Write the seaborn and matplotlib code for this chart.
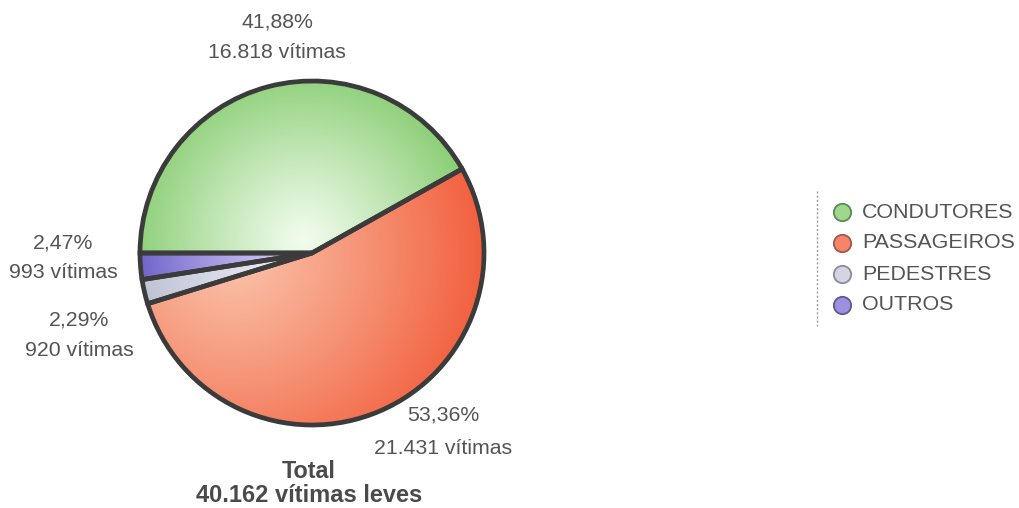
import numpy as np
import matplotlib
matplotlib.use("Agg")
import matplotlib.pyplot as plt
from matplotlib.colors import LinearSegmentedColormap, to_rgb
import seaborn as sns

# ---- data ----
categories = ["CONDUTORES", "PASSAGEIROS", "PEDESTRES", "OUTROS"]
victims = [16818, 21431, 920, 993]
total_victims = 40162

light_colors = ["#f2fcee", "#fac3aa", "#e8eaf4", "#cfc4f7"]
dark_colors = ["#86cc70", "#f2603f", "#b6b9cc", "#574cbd"]
legend_face = ["#9fd88c", "#f5846a", "#d3d5e3", "#9c90e0"]
legend_edge = ["#5b8a55", "#a0584a", "#8a8c9c", "#5d5a8e"]

sns.set_theme(style="white")
plt.rcParams["font.family"] = ["Liberation Sans", "DejaVu Sans"]

W, H = 1019, 508
fig = plt.figure(figsize=(W / 100, H / 100), dpi=100)
fig.patch.set_facecolor("white")

def fmt_int(v):
    return f"{v:,}".replace(",", ".")

def fmt_pct(v):
    return f"{v:.2f}".replace(".", ",") + "%"

pcts = [100 * v / total_victims for v in victims]

# ---- pie ----
cx, cy, r = 312, 253, 172
ax = fig.add_axes([(cx - r) / W, (H - cy - r) / H, 2 * r / W, 2 * r / H])
wedges, _ = ax.pie(victims, startangle=180, counterclock=False, radius=1,
                   wedgeprops=dict(edgecolor="#3b3b3b", linewidth=3.4))
ax.set_xlim(-1, 1)
ax.set_ylim(-1, 1)
ax.set_axis_off()

xs = np.linspace(-1.05, 1.05, 400)
X, Y = np.meshgrid(xs, xs)
highlights = [(-0.05, 0.08, 1.05), (-0.45, 0.0, 1.45), (-0.2, 0.0, 1.0), (-0.2, 0.0, 1.0)]
for w, lc, dc, (hx, hy, sc) in zip(wedges, light_colors, dark_colors, highlights):
    cmap = LinearSegmentedColormap.from_list("g", [to_rgb(lc), to_rgb(dc)])
    D = np.clip(np.hypot(X - hx, Y - hy) / sc, 0, 1) ** 1.1
    im = ax.imshow(D, cmap=cmap, vmin=0, vmax=1, extent=(-1.05, 1.05, -1.05, 1.05),
                   origin="lower", zorder=0.5, interpolation="bilinear")
    im.set_clip_path(w)
    w.set_facecolor("none")
    w.set_zorder(2)
    w.set_clip_on(False)
ax.set_xlim(-1, 1)
ax.set_ylim(-1, 1)

# ---- overlay for text & legend (pixel coords) ----
ov = fig.add_axes([0, 0, 1, 1], zorder=3)
ov.set_xlim(0, W)
ov.set_ylim(H, 0)
ov.set_axis_off()
ov.patch.set_alpha(0)

tcol = "#545454"
fs = 15.3
label_pos = [  # (x_center, y_pct, y_victims)
    (277, 22, 53),
    (443, 415, 449),
    (79, 320, 351),
    (63, 243, 273),
]
for (x, yp, yv), p, v in zip(label_pos, pcts, victims):
    ov.text(x, yp, fmt_pct(p), ha="center", va="center", fontsize=fs, color=tcol)
    ov.text(x, yv, f"{fmt_int(v)} vítimas", ha="center", va="center", fontsize=fs, color=tcol)

ov.text(309, 471, "Total", ha="center", va="center", fontsize=16.8, color="#4a4a4a",
        fontweight="bold")
ov.text(309, 495, f"{fmt_int(total_victims)} vítimas leves", ha="center", va="center",
        fontsize=17, color="#4a4a4a", fontweight="bold")

# legend
ov.plot([817, 817], [191, 326], color="#9a9a9a", linewidth=1.0, linestyle=(0, (1.5, 1.5)))
leg_y = [212, 243, 274, 305]
for yy, name, fc, ec in zip(leg_y, categories, legend_face, legend_edge):
    ov.plot([842], [yy], marker="o", markersize=12.5, markerfacecolor=fc,
            markeredgecolor=ec, markeredgewidth=1.3, linestyle="none")
    ov.text(862, yy, name, ha="left", va="center", fontsize=15.4, color=tcol)

fig.savefig("out.png", dpi=100, facecolor="white")
